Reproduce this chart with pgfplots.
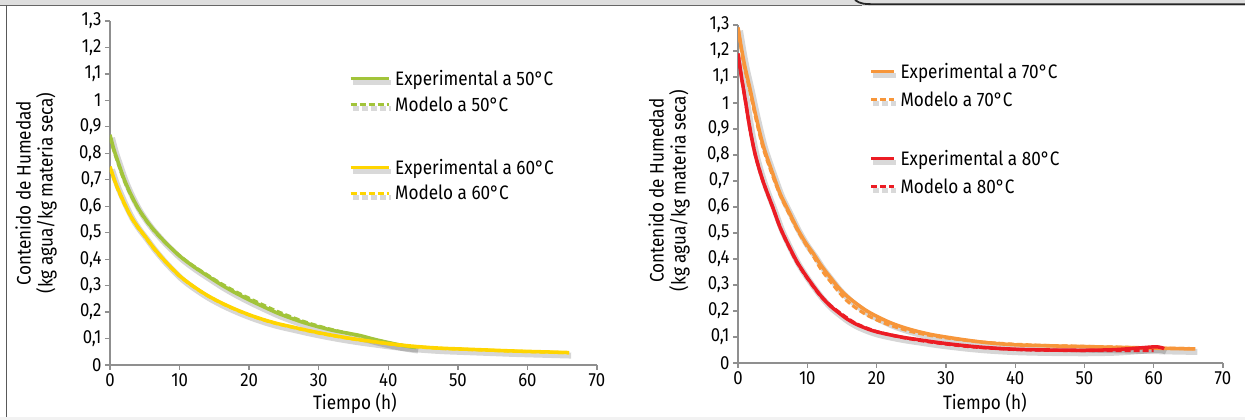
\documentclass[border=0pt]{standalone}
\usepackage{fontspec}
\setmainfont[FakeStretch=0.88]{Fira Sans}
\usepackage{pgfplots}
\usepackage{pgfplotstable}
\pgfplotsset{compat=1.18}
\definecolor{cgreen}{HTML}{A2C43A}
\definecolor{cyellow}{HTML}{FFD500}
\definecolor{corange}{HTML}{F7963A}
\definecolor{cred}{HTML}{EC1C24}
\definecolor{axgray}{HTML}{8F8F8F}

\pgfplotstableread{
t y
0 0.87
0.5 0.82
1 0.78
2 0.705
3 0.645
4 0.595
5 0.555
6 0.52
7 0.49
8 0.462
10 0.412
12 0.372
14 0.337
16 0.303
18 0.273
20 0.246
22 0.221
24 0.197
26 0.177
28 0.159
30 0.144
32 0.131
34 0.121
36 0.111
38 0.097
40 0.085
42 0.074
44 0.066
}\expA
\pgfplotstableread{
t y
0 0.86
0.5 0.815
1 0.775
2 0.70
3 0.642
4 0.593
5 0.553
6 0.518
7 0.488
8 0.461
10 0.413
12 0.374
14 0.34
16 0.307
18 0.278
20 0.252
22 0.227
24 0.203
26 0.182
28 0.163
30 0.147
32 0.133
34 0.121
36 0.109
38 0.096
40 0.084
42 0.074
44 0.066
}\modA
\pgfplotstableread{
t y
0 0.75
0.5 0.71
1 0.675
2 0.615
3 0.562
4 0.522
5 0.488
6 0.452
7 0.42
8 0.39
10 0.337
12 0.297
14 0.263
16 0.235
18 0.211
20 0.19
22 0.172
24 0.157
26 0.145
28 0.133
30 0.122
32 0.112
34 0.103
36 0.095
38 0.088
40 0.081
42 0.075
44 0.07
46 0.066
48 0.063
50 0.061
54 0.057
58 0.053
62 0.05
66 0.047
}\expB
\pgfplotstableread{
t y
0 0.745
1 0.672
2 0.612
3 0.56
4 0.52
5 0.486
6 0.45
7 0.418
8 0.389
10 0.336
12 0.296
14 0.262
16 0.234
18 0.21
20 0.189
22 0.171
24 0.156
26 0.144
28 0.132
30 0.121
32 0.111
34 0.102
36 0.094
38 0.087
40 0.08
42 0.074
44 0.069
46 0.065
48 0.062
50 0.06
54 0.056
58 0.052
62 0.049
66 0.046
}\modB
\pgfplotstableread{
t y
0 1.29
0.5 1.21
1 1.14
1.73 1.055
2.5 0.96
3.6 0.84
5 0.73
6.1 0.65
7.3 0.585
8.5 0.52
9.7 0.465
10.9 0.42
12 0.375
13.3 0.33
14.5 0.29
15.7 0.258
17 0.23
18.5 0.202
20 0.18
22 0.155
24 0.136
26 0.121
28 0.109
30 0.1
33 0.088
36 0.078
40 0.07
45 0.066
50 0.063
55 0.06
60 0.057
66 0.054
}\expC
\pgfplotstableread{
t y
0 1.29
0.5 1.2
1 1.13
1.73 1.045
2.5 0.95
3.6 0.83
5 0.72
6.1 0.645
7.3 0.578
8.5 0.515
9.7 0.46
10.9 0.41
12 0.36
13.3 0.315
14.5 0.275
15.7 0.24
17 0.212
18.5 0.186
20 0.166
22 0.145
25 0.121
28 0.105
30 0.097
35 0.081
40 0.072
45 0.067
50 0.064
55 0.061
60 0.058
66 0.055
}\modC
\pgfplotstableread{
t y
0 1.19
0.5 1.1
1 1.02
1.73 0.9
2.5 0.8
3.6 0.7
5 0.6
6.1 0.52
7.3 0.452
8.5 0.39
9.7 0.34
10.9 0.295
12 0.257
13.3 0.22
14.5 0.194
15.7 0.17
17 0.15
18.5 0.133
20 0.12
22 0.108
24 0.098
26 0.09
28 0.082
30 0.075
33 0.066
36 0.059
40 0.053
45 0.05
50 0.049
54 0.051
57 0.056
60 0.062
61 0.06
61.5 0.055
}\expD
\pgfplotstableread{
t y
0 1.19
0.5 1.1
1 1.02
1.73 0.9
2.5 0.8
3.6 0.7
5 0.6
6.1 0.52
7.3 0.45
8.5 0.388
9.7 0.338
10.9 0.293
12 0.255
13.3 0.222
14.5 0.197
15.7 0.174
17 0.152
18.5 0.135
20 0.121
22 0.108
24 0.097
26 0.088
28 0.08
30 0.073
33 0.064
36 0.058
40 0.052
45 0.049
50 0.048
55 0.048
60 0.048
}\modD

\pgfplotsset{
  myaxis/.style={
    scale only axis,
    xmin=0, xmax=70, ymin=0, ymax=1.3,
    xtick={0,10,20,30,40,50,60,70},
    ytick={0,0.1,0.2,0.3,0.4,0.5,0.6,0.7,0.8,0.9,1,1.1,1.2,1.3},
    axis x line*=bottom, axis y line*=left,
    axis line style={draw=axgray, line width=1.3pt, -},
    tick style={draw=axgray, line width=1.3pt},
    major tick length=5pt, tick align=outside,
    ticklabel style={font=\fontsize{19}{22}\selectfont},
    /pgf/number format/use comma,
    /pgf/number format/assume math mode=true,
    label style={font=\fontsize{19.5}{22}\selectfont},
    xlabel={Tiempo (h)},
    ylabel={Contenido de Humedad\\(kg agua/kg materia seca)},
    ylabel style={align=center, anchor=center},
    xlabel style={anchor=center},
    legend cell align=left,
    legend style={draw=none, fill=none, font=\fontsize{19.5}{22}\selectfont, anchor=north west},
  },
  shad/.style={forget plot, draw=black, opacity=0.16, line width=6pt, xshift=2pt, yshift=-3pt, smooth},
  lin/.style={line width=3.5pt, smooth},
  dsh/.style={line width=3.2pt, smooth, dash pattern=on 6pt off 3pt},
}

\begin{document}
\begin{tikzpicture}
\useasboundingbox (0,0) rectangle (1245pt,420pt);
\fill[white] (0,0) rectangle (1245pt,420pt);

\begin{axis}[myaxis, at={(110pt,55pt)}, anchor=south west, width=487pt, height=344pt,
  xlabel style={at={(axis description cs:0.503,0)}, yshift=-38pt},
  ylabel style={at={(axis description cs:-0.152,0.5)}},
  legend style={at={(axis description cs:0.484,0.869)}, row sep=5.5pt},
  legend image code/.code={
    \draw[line width=5pt, black, opacity=0.15] (2pt,-4pt) -- (40pt,-4pt);
    \draw[#1] (0pt,0pt) -- (38pt,0pt);
  }]
\addplot[shad] table {\expA};
\addplot[shad] table {\expB};
\addplot[lin, cgreen] table {\expA};
\addlegendentry{Experimental a 50°C}
\addplot[dsh, cgreen] table {\modA};
\addlegendentry{Modelo a 50°C}
\addlegendimage{empty legend}
\addlegendentry{\rule{0pt}{26pt}}
\addplot[lin, cyellow] table {\expB};
\addlegendentry{Experimental a 60°C}
\addplot[dsh, cyellow] table {\modB};
\addlegendentry{Modelo a 60°C}
\end{axis}

\begin{axis}[myaxis, at={(738pt,57pt)}, anchor=south west, width=485pt, height=338pt,
  xlabel style={at={(axis description cs:0.509,0)}, yshift=-40pt},
  ylabel style={at={(axis description cs:-0.142,0.51)}},
  legend style={at={(axis description cs:0.264,0.899)}, row sep=7.5pt},
  legend image code/.code={
    \draw[line width=5pt, black, opacity=0.15] (2pt,-4pt) -- (25pt,-4pt);
    \draw[#1] (0pt,0pt) -- (23pt,0pt);
  }]
\addplot[shad] table {\expC};
\addplot[shad] table {\expD};
\addplot[lin, corange] table {\expC};
\addlegendentry{Experimental a 70°C}
\addplot[dsh, corange] table {\modC};
\addlegendentry{Modelo a 70°C}
\addlegendimage{empty legend}
\addlegendentry{\rule{0pt}{18pt}}
\addplot[lin, cred] table {\expD};
\addlegendentry{Experimental a 80°C}
\addplot[dsh, cred] table {\modD};
\addlegendentry{Modelo a 80°C}
\end{axis}

% frame
\fill[black!13] (0,414pt) rectangle (1245pt,420pt);
\draw[line width=1.5pt, black!60] (0,414.5pt) -- (862pt,414.5pt);
\fill[black!13] (862pt,414pt) rectangle (1245pt,420pt);
\draw[line width=1.8pt, black!85] (855pt,420pt) .. controls (860pt,416pt) and (865pt,415.8pt) .. (875pt,415.8pt) -- (1245pt,415.8pt);
\draw[line width=1.5pt, black!65] (6.5pt,3pt) -- (6.5pt,414.5pt);
\fill[black!5] (0,0) rectangle (1245pt,3pt);
\end{tikzpicture}
\end{document}
